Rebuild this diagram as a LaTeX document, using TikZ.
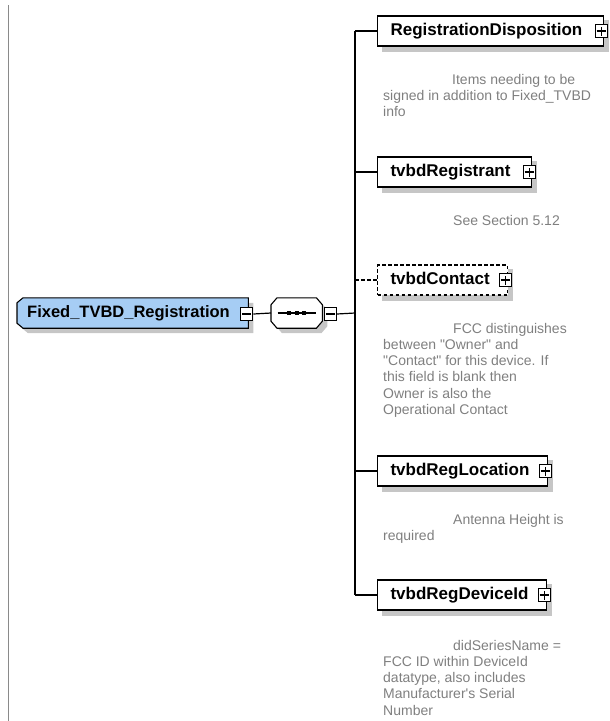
\documentclass[tikz,border=0pt]{standalone}
\usepackage{fontspec}
\setmainfont{Liberation Sans}

\pgfdeclarelayer{shade}
\pgfsetlayers{shade,main}

\definecolor{rootfill}{HTML}{A6CDF4}
\definecolor{notegray}{HTML}{7F7F7F}
\definecolor{shadowgray}{HTML}{C6C6C6}
\definecolor{edgegray}{HTML}{8A8A8A}

\tikzset{
  dropped/.style={fill=shadowgray, transform canvas={shift={(5pt,-5pt)}}},
  rootbody/.style={fill=rootfill, draw=black, line width=1.1pt},
  seqbody/.style={fill=white, draw=black, line width=1.1pt},
  elembox/.style={rectangle, draw=black, line width=1.1pt, fill=white,
    minimum height=30pt, inner xsep=13pt, inner ysep=0pt, anchor=west,
    text width=#1, align=left, text height=12pt, text depth=3.5pt,
    font=\fontsize{17}{20}\selectfont\bfseries},
  optbox/.style={elembox=#1, dash pattern=on 3.5pt off 2.5pt},
  togglebox/.style={rectangle, draw=black, line width=1.1pt, fill=white,
    minimum width=12pt, minimum height=13pt, inner sep=0pt},
  plusbox/.style={togglebox, path picture={
    \draw[line width=1.1pt] ([xshift=-4.5pt]path picture bounding box.center) -- ([xshift=4.5pt]path picture bounding box.center)
      ([yshift=-4.5pt]path picture bounding box.center) -- ([yshift=4.5pt]path picture bounding box.center);}},
  minusbox/.style={togglebox, path picture={
    \draw[line width=1.1pt] ([xshift=-4.5pt]path picture bounding box.center) -- ([xshift=4.5pt]path picture bounding box.center);}},
  rootlabel/.style={rectangle, minimum width=231pt, minimum height=30pt,
    inner xsep=10pt, inner ysep=0pt, anchor=west, text width=211pt, align=left,
    text height=12pt, text depth=3.5pt, font=\fontsize{16.5}{20}\selectfont\bfseries},
  seqlabel/.style={rectangle, minimum width=51pt, minimum height=30pt, inner sep=0pt, anchor=west},
  note/.style={anchor=north west, inner sep=0pt, align=left, text=notegray,
    font=\fontsize{14}{16.2}\selectfont},
  link/.style={line width=1.2pt},
  optlink/.style={link, dash pattern=on 3.5pt off 2.5pt},
}

\begin{document}
\begin{tikzpicture}[x=1pt,y=-1pt]
  \useasboundingbox (0,0) rectangle (610,721);

  % left margin rule
  \draw[edgegray, line width=1.6pt] (8.5,5) -- (8.5,721);

  % root element and its sequence compositor
  \node[rootlabel] (root) at (17,313) {Fixed\_TVBD\_Registration};
  \node[seqlabel] (seq) at (271,313) {};

  \begin{pgfonlayer}{shade}
    % root: left corners chamfered
    \foreach \sty in {dropped, rootbody}
      \path[\sty] ([shift={(6,0)}]root.north west) -- (root.north east) -- (root.south east)
        -- ([shift={(6,0)}]root.south west) -- ([shift={(0,-5)}]root.south west)
        -- ([shift={(0,5)}]root.north west) -- cycle;
    % sequence compositor: octagon
    \foreach \sty in {dropped, seqbody}
      \path[\sty] ([shift={(6,0)}]seq.north west) -- ([shift={(-6,0)}]seq.north east)
        -- ([shift={(0,7)}]seq.north east) -- ([shift={(0,-7)}]seq.south east)
        -- ([shift={(-6,0)}]seq.south east) -- ([shift={(6,0)}]seq.south west)
        -- ([shift={(0,-7)}]seq.south west) -- ([shift={(0,7)}]seq.north west) -- cycle;
  \end{pgfonlayer}

  \draw[line width=1.1pt] ([xshift=-19pt]seq.center) -- ([xshift=19pt]seq.center);
  \foreach \dx in {-7.5,0,7.5}
    \fill ([xshift=\dx pt]seq.center) ++(-2,-2) rectangle ++(4,4);

  \node[minusbox] (rootminus) at ([xshift=-1.5pt,yshift=-1pt]root.east) {};
  \node[minusbox] (seqminus) at ([xshift=8pt,yshift=-1pt]seq.east) {};

  \coordinate (hub) at (355,313);
  \draw[link] (rootminus.east) -- (seq.west);
  \draw[link] (seqminus.east) -- (hub);

  % child elements
  \node[elembox=200pt] (c1) at (377,31)  {RegistrationDisposition};
  \node[elembox=128pt] (c2) at (377,172) {tvbdRegistrant};
  \node[optbox=104pt]  (c3) at (377,280) {tvbdContact};
  \node[elembox=144pt] (c4) at (377,471) {tvbdRegLocation};
  \node[elembox=143pt] (c5) at (377,595) {tvbdRegDeviceId};

  \begin{pgfonlayer}{shade}
    \foreach \c in {c1,c2,c3,c4,c5}
      \fill[dropped] (\c.north west) rectangle (\c.south east);
  \end{pgfonlayer}

  \foreach \c in {c1,c2,c3,c4,c5}
    \node[plusbox] (\c plus) at ([xshift=-3pt]\c.east) {};

  % branch lines
  \draw[link] (c1.west -| hub) -- (c5.west -| hub);
  \draw[link] (c1.west -| hub) -- (c1.west);
  \draw[link] (c2.west -| hub) -- (c2.west);
  \draw[optlink] (c3.west -| hub) -- (c3.west);
  \draw[link] (c4.west -| hub) -- (c4.west);
  \draw[link] (c5.west -| hub) -- (c5.west);

  % annotations
  \node[note] (n1) at (383,74)  {\hspace*{69pt}Items needing to be\\signed in addition to Fixed\_TVBD\\info};
  \node[note] (n2) at (383,215) {\hspace*{70pt}See Section 5.12};
  \node[note] (n3) at (383,323) {\hspace*{70pt}FCC distinguishes\\between \textquotedbl Owner\textquotedbl{} and\\\textquotedbl Contact\textquotedbl{} for this device. If\\this field is blank then\\Owner is also the\\Operational Contact};
  \node[note] (n4) at (383,514) {\hspace*{70pt}Antenna Height is\\required};
  \node[note] (n5) at (383,640) {\hspace*{70pt}didSeriesName =\\FCC ID within DeviceId\\datatype, also includes\\Manufacturer\textquotesingle s Serial\\Number};
\end{tikzpicture}
\end{document}
